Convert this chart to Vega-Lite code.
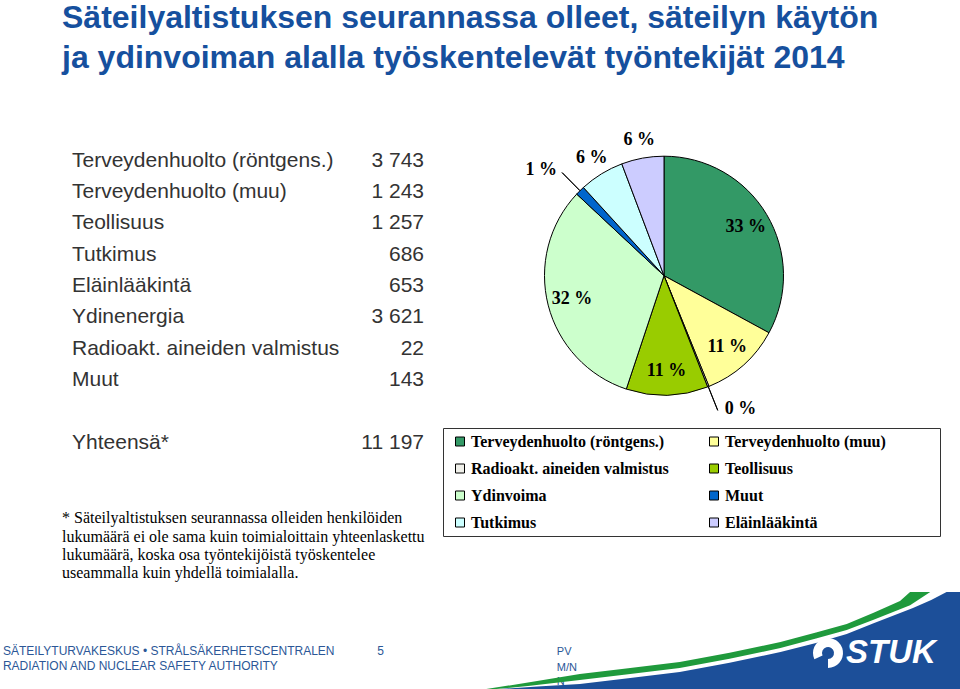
{
  "$schema": "https://vega.github.io/schema/vega-lite/v6.json",
  "background": "white",
  "padding": {"left": 0, "top": 2, "right": 0, "bottom": 0},
  "spacing": 9,
  "title": {
    "text": ["Säteilyaltistuksen seurannassa olleet, säteilyn käytön", "ja ydinvoiman alalla työskentelevät työntekijät 2014"],
    "anchor": "start",
    "dx": 62,
    "font": "Liberation Sans",
    "fontSize": 32,
    "fontWeight": "bold",
    "color": "#16509e",
    "lineHeight": 40,
    "offset": 42
  },
  "config": {
    "view": {"stroke": null},
    "locale": {"number": {"decimal": ",", "thousands": " ", "grouping": [3], "currency": ["", " €"]}}
  },
  "datasets": {
    "sectors": [
      {"cat": "Terveydenhuolto (röntgens.)", "tableLabel": "Terveydenhuolto (röntgens.)", "value": 3743, "pct": "33 %", "pieOrder": 1},
      {"cat": "Terveydenhuolto (muu)", "tableLabel": "Terveydenhuolto (muu)", "value": 1243, "pct": "11 %", "pieOrder": 2},
      {"cat": "Radioakt. aineiden valmistus", "tableLabel": "Radioakt. aineiden valmistus", "value": 22, "pct": "0 %", "pieOrder": 3},
      {"cat": "Teollisuus", "tableLabel": "Teollisuus", "value": 1257, "pct": "11 %", "pieOrder": 4},
      {"cat": "Ydinvoima", "tableLabel": "Ydinenergia", "value": 3621, "pct": "32 %", "pieOrder": 5},
      {"cat": "Muut", "tableLabel": "Muut", "value": 143, "pct": "1 %", "pieOrder": 6},
      {"cat": "Tutkimus", "tableLabel": "Tutkimus", "value": 686, "pct": "6 %", "pieOrder": 7},
      {"cat": "Eläinlääkintä", "tableLabel": "Eläinlääkintä", "value": 653, "pct": "6 %", "pieOrder": 8}
    ],
    "total": [{"tableLabel": "Yhteensä*", "value": 11197}],
    "footnote": [
      {"line": 1, "text": "* Säteilyaltistuksen seurannassa olleiden henkilöiden"},
      {"line": 2, "text": "lukumäärä ei ole sama kuin toimialoittain yhteenlaskettu"},
      {"line": 3, "text": "lukumäärä, koska osa työntekijöistä työskentelee"},
      {"line": 4, "text": "useammalla kuin yhdellä toimialalla."}
    ],
    "blue": [
      {"x": 50.5, "top": 0}, {"x": 52.1, "top": 2}, {"x": 56, "top": 4.5}, {"x": 60.4, "top": 7.1},
      {"x": 65, "top": 12.5}, {"x": 70.8, "top": 19.2}, {"x": 76, "top": 28.5}, {"x": 81.3, "top": 39.4},
      {"x": 85, "top": 48.5}, {"x": 88.2, "top": 57.6}, {"x": 91, "top": 68.5}, {"x": 95.1, "top": 83.8},
      {"x": 97, "top": 92}, {"x": 98.6, "top": 100}, {"x": 100, "top": 100}
    ],
    "green": [
      {"x": 50, "lo": 0.5, "hi": 1}, {"x": 55, "lo": 5, "hi": 8.5}, {"x": 60.4, "lo": 11.1, "hi": 17.2},
      {"x": 65, "lo": 16.5, "hi": 22.6}, {"x": 70.8, "lo": 23.2, "hi": 29.3}, {"x": 76, "lo": 32.5, "hi": 38.6},
      {"x": 81.3, "lo": 43.4, "hi": 49.5}, {"x": 85, "lo": 53, "hi": 59}, {"x": 88.2, "lo": 61.6, "hi": 67.7},
      {"x": 91, "lo": 72, "hi": 79}, {"x": 93.75, "lo": 82.5, "hi": 90.9}, {"x": 94.8, "lo": 86.5, "hi": 100},
      {"x": 96.9, "lo": 100, "hi": 100}
    ]
  },
  "vconcat": [
    {
      "spacing": 16,
      "hconcat": [
        {
          "bounds": "flush",
          "spacing": 50,
          "vconcat": [
            {
              "width": 424,
              "height": 313.3,
              "layer": [
                {
                  "data": {"name": "sectors"},
                  "mark": {"type": "text", "align": "left", "baseline": "middle", "dx": 72, "font": "Liberation Sans", "fontSize": 21, "color": "#333333"},
                  "encoding": {
                    "x": {"datum": 0, "type": "quantitative", "scale": {"domain": [0, 1]}, "axis": null},
                    "y": {"field": "tableLabel", "type": "ordinal", "axis": null,
                      "scale": {"type": "point", "padding": 0.5, "domain": ["Terveydenhuolto (röntgens.)", "Terveydenhuolto (muu)", "Teollisuus", "Tutkimus", "Eläinlääkintä", "Ydinenergia", "Radioakt. aineiden valmistus", "Muut", " ", "Yhteensä*"]}},
                    "text": {"field": "tableLabel"}
                  }
                },
                {
                  "data": {"name": "sectors"},
                  "mark": {"type": "text", "align": "right", "baseline": "middle", "font": "Liberation Sans", "fontSize": 21, "color": "#333333"},
                  "encoding": {
                    "x": {"datum": 1, "type": "quantitative"},
                    "y": {"field": "tableLabel", "type": "ordinal"},
                    "text": {"field": "value", "type": "quantitative", "format": ",d"}
                  }
                },
                {
                  "data": {"name": "total"},
                  "mark": {"type": "text", "align": "left", "baseline": "middle", "dx": 72, "font": "Liberation Sans", "fontSize": 21, "color": "#333333"},
                  "encoding": {
                    "x": {"datum": 0, "type": "quantitative"},
                    "y": {"field": "tableLabel", "type": "ordinal"},
                    "text": {"field": "tableLabel"}
                  }
                },
                {
                  "data": {"name": "total"},
                  "mark": {"type": "text", "align": "right", "baseline": "middle", "font": "Liberation Sans", "fontSize": 21, "color": "#333333"},
                  "encoding": {
                    "x": {"datum": 1, "type": "quantitative"},
                    "y": {"field": "tableLabel", "type": "ordinal"},
                    "text": {"field": "value", "type": "quantitative", "format": ",d"}
                  }
                }
              ]
            },
            {
              "width": 424,
              "height": 73.6,
              "data": {"name": "footnote"},
              "mark": {"type": "text", "align": "left", "baseline": "middle", "dx": 62, "font": "Liberation Serif", "fontSize": 16, "color": "black"},
              "encoding": {
                "x": {"datum": 0, "type": "quantitative", "scale": {"domain": [0, 1]}, "axis": null},
                "y": {"field": "line", "type": "ordinal", "axis": null, "scale": {"type": "point", "padding": 0.5}},
                "text": {"field": "text"}
              }
            }
          ]
        },
        {
          "width": 446,
          "height": 261.4,
          "data": {"name": "sectors"},
          "encoding": {
            "theta": {"field": "value", "type": "quantitative", "stack": true},
            "order": {"field": "pieOrder", "type": "quantitative"}
          },
          "layer": [
            {
              "mark": {"type": "arc", "outerRadius": 119.5, "stroke": "black", "strokeWidth": 1},
              "encoding": {
                "color": {
                  "field": "cat", "type": "nominal",
                  "scale": {
                    "domain": ["Terveydenhuolto (röntgens.)", "Terveydenhuolto (muu)", "Radioakt. aineiden valmistus", "Teollisuus", "Ydinvoima", "Muut", "Tutkimus", "Eläinlääkintä"],
                    "range": ["#339966", "#ffff99", "#f0f0ea", "#99cc00", "#ccffcc", "#0066cc", "#ccffff", "#ccccff"]
                  },
                  "legend": {
                    "orient": "none", "legendX": 443, "legendY": 283, "title": null, "columns": 2, "direction": "horizontal",
                    "gridAlign": "each", "symbolType": "square", "symbolSize": 81,
                    "symbolStrokeColor": "black", "symbolStrokeWidth": 1,
                    "labelFont": "Liberation Serif", "labelFontWeight": "bold", "labelFontSize": 16, "labelColor": "black",
                    "labelOffset": 3, "labelLimit": 400, "columnPadding": 33, "rowPadding": 11, "padding": 5.5,
                    "symbolOffset": 3.5, "strokeColor": "#333333",
                    "labelExpr": "datum.label === 'Terveydenhuolto (muu)' ? datum.label + '\u2800\u2800\u2800\u2800' : datum.label"
                  }
                }
              }
            },
            {
              "mark": {"type": "arc", "innerRadius": 119.5, "outerRadius": 145, "padAngle": 0.2, "fillOpacity": 0, "stroke": "black", "strokeWidth": 1},
              "encoding": {
                "strokeOpacity": {"condition": {"test": "datum.value < 200", "value": 1}, "value": 0}
              }
            },
            {
              "mark": {"type": "text", "radius": 95, "font": "Liberation Serif", "fontWeight": "bold", "fontSize": 18, "color": "black"},
              "encoding": {"text": {"condition": {"test": "datum.value >= 1000", "field": "pct"}, "value": ""}}
            },
            {
              "mark": {"type": "text", "radius": 138, "font": "Liberation Serif", "fontWeight": "bold", "fontSize": 18, "color": "black"},
              "encoding": {"text": {"condition": {"test": "datum.value >= 600 && datum.value < 1000", "field": "pct"}, "value": ""}}
            },
            {
              "mark": {"type": "text", "radius": 148, "align": "right", "dx": -3, "font": "Liberation Serif", "fontWeight": "bold", "fontSize": 18, "color": "black"},
              "encoding": {"text": {"condition": {"test": "datum.cat === 'Muut'", "field": "pct"}, "value": ""}}
            },
            {
              "mark": {"type": "text", "radius": 148, "align": "left", "dx": 6, "dy": -4, "font": "Liberation Serif", "fontWeight": "bold", "fontSize": 18, "color": "black"},
              "encoding": {"text": {"condition": {"test": "datum.pieOrder === 3", "field": "pct"}, "value": ""}}
            }
          ]
        }
      ]
    },
    {
      "width": 960,
      "height": 99,
      "layer": [
        {
          "data": {"values": [{}]},
          "mark": {"type": "text", "text": "N", "align": "left", "baseline": "middle", "font": "Liberation Sans", "fontSize": 11, "color": "#2b5797"},
          "encoding": {
            "x": {"datum": 58.0, "type": "quantitative", "scale": {"domain": [0, 100], "nice": false, "zero": false}, "axis": null},
            "y": {"datum": 9, "type": "quantitative", "scale": {"domain": [0, 100], "nice": false}, "axis": null}
          }
        },
        {
          "data": {"name": "green"},
          "mark": {"type": "area", "color": "#1f9a3c", "clip": true},
          "encoding": {
            "x": {"field": "x", "type": "quantitative"},
            "y": {"field": "hi", "type": "quantitative"},
            "y2": {"field": "lo"}
          }
        },
        {
          "data": {"name": "blue"},
          "mark": {"type": "area", "color": "#1c4f99", "clip": true},
          "encoding": {
            "x": {"field": "x", "type": "quantitative"},
            "y": {"field": "top", "type": "quantitative"},
            "y2": {"datum": 0}
          }
        },
        {
          "data": {"values": [{}]},
          "mark": {"type": "text", "text": "SÄTEILYTURVAKESKUS • STRÅLSÄKERHETSCENTRALEN", "align": "left", "baseline": "middle", "font": "Liberation Sans", "fontSize": 12, "color": "#2b5797"},
          "encoding": {"x": {"datum": 0.3, "type": "quantitative"}, "y": {"datum": 40.4, "type": "quantitative"}}
        },
        {
          "data": {"values": [{}]},
          "mark": {"type": "text", "text": "RADIATION AND NUCLEAR SAFETY AUTHORITY", "align": "left", "baseline": "middle", "font": "Liberation Sans", "fontSize": 12, "color": "#2b5797"},
          "encoding": {"x": {"datum": 0.3, "type": "quantitative"}, "y": {"datum": 25.3, "type": "quantitative"}}
        },
        {
          "data": {"values": [{}]},
          "mark": {"type": "text", "text": "5", "align": "left", "baseline": "middle", "font": "Liberation Sans", "fontSize": 12, "color": "#2b5797"},
          "encoding": {"x": {"datum": 39.3, "type": "quantitative"}, "y": {"datum": 40.4, "type": "quantitative"}}
        },
        {
          "data": {"values": [{}]},
          "mark": {"type": "text", "text": "PV", "align": "left", "baseline": "middle", "font": "Liberation Sans", "fontSize": 11, "color": "#2b5797"},
          "encoding": {"x": {"datum": 58.0, "type": "quantitative"}, "y": {"datum": 39.4, "type": "quantitative"}}
        },
        {
          "data": {"values": [{}]},
          "mark": {"type": "text", "text": "M/N", "align": "left", "baseline": "middle", "font": "Liberation Sans", "fontSize": 11, "color": "#2b5797"},
          "encoding": {"x": {"datum": 58.0, "type": "quantitative"}, "y": {"datum": 23.2, "type": "quantitative"}}
        },
        {
          "data": {"values": [{}]},
          "mark": {"type": "arc", "theta": -2.0, "theta2": 3.14, "outerRadius": 15, "innerRadius": 6, "color": "white"},
          "encoding": {"x": {"datum": 86.25, "type": "quantitative"}, "y": {"datum": 38.4, "type": "quantitative"}}
        },
        {
          "data": {"values": [{}]},
          "mark": {"type": "text", "text": "STUK", "align": "center", "baseline": "middle", "font": "Liberation Sans", "fontSize": 33, "fontWeight": "bold", "fontStyle": "italic", "color": "white"},
          "encoding": {"x": {"datum": 92.8, "type": "quantitative"}, "y": {"datum": 38.4, "type": "quantitative"}}
        }
      ]
    }
  ]
}
